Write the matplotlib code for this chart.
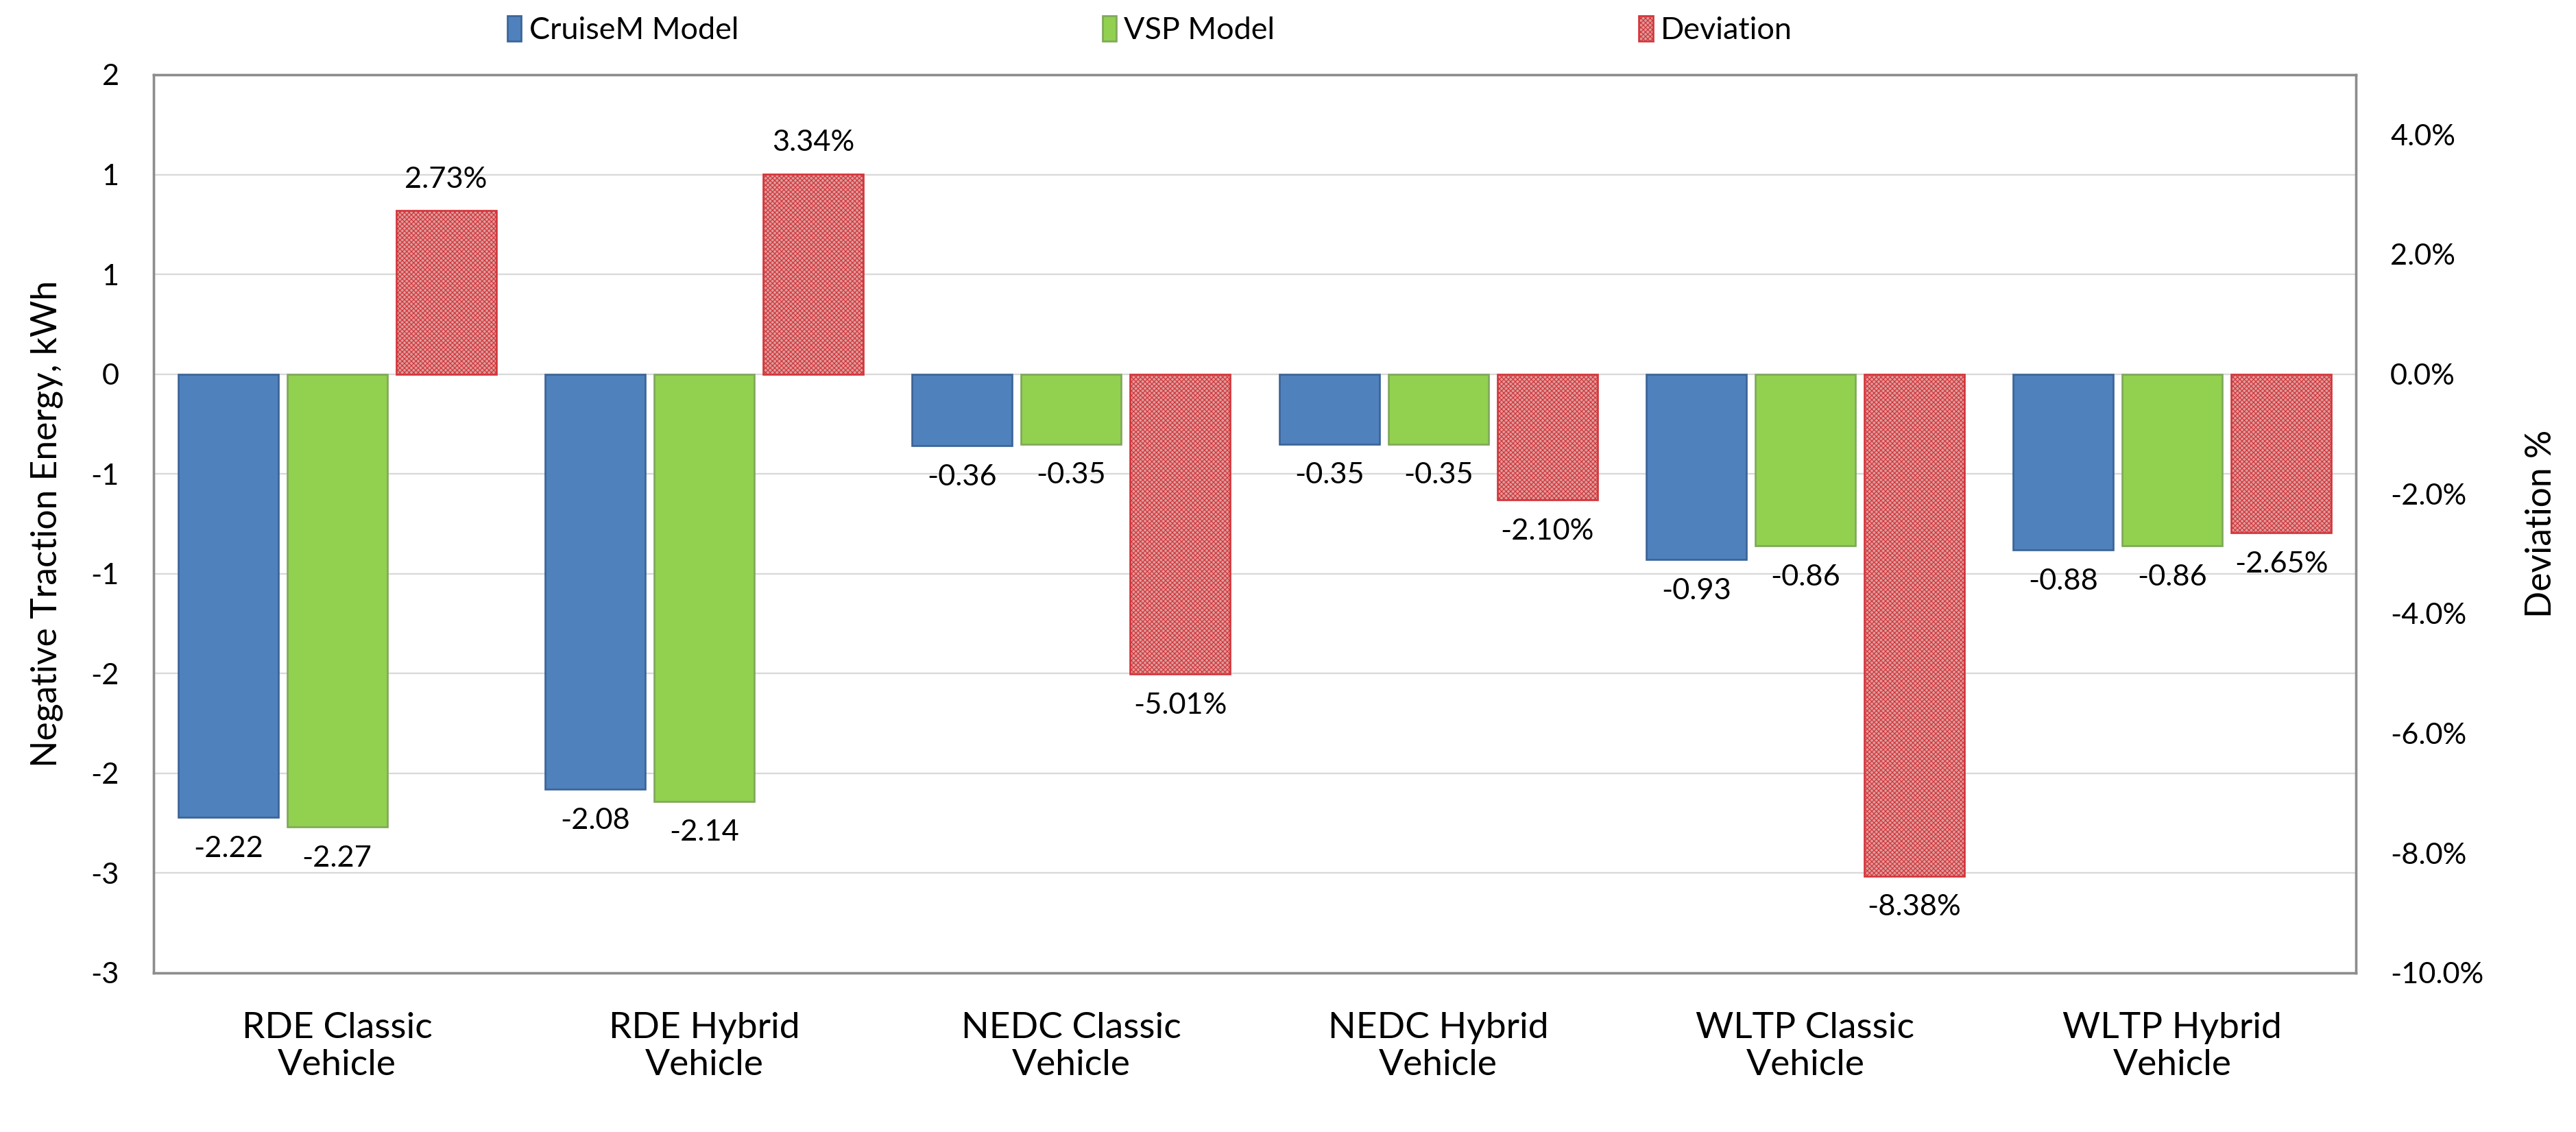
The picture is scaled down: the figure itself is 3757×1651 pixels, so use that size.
import numpy as np
import matplotlib
matplotlib.use('Agg')
from matplotlib import pyplot as plt

plt.rcParams['font.family'] = ['Lato', 'DejaVu Sans']
plt.rcParams['axes.unicode_minus'] = False
plt.rcParams['hatch.linewidth'] = 0.35

categories = ['RDE Classic\nVehicle', 'RDE Hybrid\nVehicle', 'NEDC Classic\nVehicle',
              'NEDC Hybrid\nVehicle', 'WLTP Classic\nVehicle', 'WLTP Hybrid\nVehicle']
cruisem = [-2.22, -2.08, -0.36, -0.35, -0.93, -0.88]
vsp = [-2.27, -2.14, -0.35, -0.35, -0.86, -0.86]
deviation = [2.73, 3.34, -5.01, -2.10, -8.38, -2.65]  # percent

series_names = ['CruiseM Model', 'VSP Model', 'Deviation']

# excel showed the 0.5 steps with a "0" number format, so labels repeat
left_ticks = [-3.0, -2.5, -2.0, -1.5, -1.0, -0.5, 0.0, 0.5, 1.0, 1.5]
left_tick_labels = ['-3', '-3', '-2', '-2', '-1', '-1', '0', '1', '1', '2']
right_ticks = [-10, -8, -6, -4, -2, 0, 2, 4]
right_tick_labels = ['-10.0%', '-8.0%', '-6.0%', '-4.0%', '-2.0%', '0.0%', '2.0%', '4.0%']

W, H, DPI = 3757, 1651, 240
fig = plt.figure(figsize=(W / DPI, H / DPI), dpi=DPI)
ax = fig.add_axes([224 / W, 1 - 1419 / H, (3436 - 224) / W, (1419 - 109) / H])
ax2 = ax.twinx()

x = np.arange(len(categories))
step = 0.297
width = 0.273

b1 = ax.bar(x - step, cruisem, width, color='#4F81BD', edgecolor='#3B6496', linewidth=0.8, zorder=3)
b2 = ax.bar(x, vsp, width, color='#92D050', edgecolor='#7FA85A', linewidth=0.8, zorder=3)
b3 = ax2.bar(x + step, deviation, width, color='#DC9C9C', edgecolor='#D3353A',
             hatch='xxxxxxxxxxxx', linewidth=0.8, zorder=3)

ax.set_xlim(-0.5, len(categories) - 0.5)
ax.set_ylim(-3.0, 1.5)
ax2.set_ylim(-10, 5)

ax.set_yticks(left_ticks)
ax.set_yticklabels(left_tick_labels)
ax2.set_yticks(right_ticks)
ax2.set_yticklabels(right_tick_labels)
ax.set_xticks(x)
ax.set_xticklabels(categories, fontsize=16, linespacing=1.2)

ax.grid(axis='y', color='#D9D9D9', linewidth=0.7)
ax.set_axisbelow(True)
ax.tick_params(axis='y', length=0, pad=15, labelsize=13)
ax.tick_params(axis='x', length=0, pad=17)
ax2.tick_params(axis='y', length=0, pad=15, labelsize=13)

for a in (ax, ax2):
    for s in a.spines.values():
        s.set_color('#8C8C8C')
        s.set_linewidth(1.0)

ax.set_ylabel('Negative Traction Energy, kWh', fontsize=15.5)
ax.yaxis.set_label_coords(-0.041, 0.5)
ax2.set_ylabel('Deviation %', fontsize=15.5)
ax2.yaxis.set_label_coords(1.077, 0.5)

for bars, vals in ((b1, cruisem), (b2, vsp)):
    for rect, v in zip(bars, vals):
        ax.annotate('%.2f' % v, (rect.get_x() + rect.get_width() / 2, v),
                    xytext=(0, -8), textcoords='offset points',
                    ha='center', va='top', fontsize=13)

for rect, v in zip(b3, deviation):
    off = 8 if v > 0 else -8
    ax2.annotate('%.2f%%' % v, (rect.get_x() + rect.get_width() / 2, v),
                 xytext=(0, off), textcoords='offset points',
                 ha='center', va='bottom' if v > 0 else 'top', fontsize=13)

fig.legend([b1, b2, b3], series_names, loc='center left', bbox_to_anchor=(740 / W, 1 - 44 / H),
           ncol=3, frameon=False, fontsize=13.5, handlelength=0.45, handleheight=0.9,
           handletextpad=0.25, columnspacing=11.8, borderpad=0, borderaxespad=0)

fig.savefig('out.png', dpi=DPI)
